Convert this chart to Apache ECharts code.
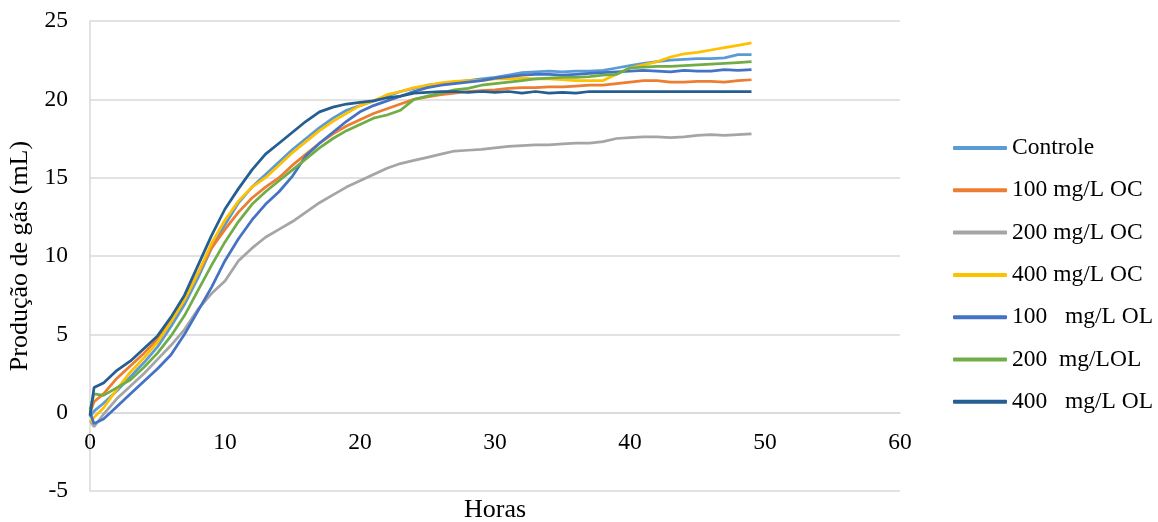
<html>
<head>
    <meta charset="utf-8" />
</head>
<body style="margin:0">
    <div id="chart" style="width:1158px;height:522px"></div>
    <script src="https://cdn.jsdelivr.net/npm/echarts@6/dist/echarts.min.js"></script>
    <script>
        // horas
        var hours = [0, 0.3, 1, 2, 3, 4, 5, 6, 7, 8, 9, 10, 11, 12, 13, 14, 15, 16, 17, 18, 19, 20, 21, 22, 23, 24,
            25, 26, 27, 28, 29, 30, 31, 32, 33, 34, 35, 36, 37, 38, 39, 40, 41, 42, 43, 44, 45, 46, 47, 48, 49];

        var seriesNames = ['Controle', '100 mg/L OC', '200 mg/L OC', '400 mg/L OC', '100   mg/L OL', '200  mg/LOL', '400   mg/L OL'];
        var colors = ['#5b9bd5', '#ed7d31', '#a5a5a5', '#ffc000', '#4472c4', '#70ad47', '#255e91'];

        var controle = [-0.3, 0.1, 0.6, 1.4, 2.3, 3.2, 4.2, 5.5, 6.9, 8.6, 10.5, 12.0, 13.4, 14.4, 15.2, 16.0, 16.8, 17.5, 18.2, 18.8,
            19.3, 19.6, 19.9, 20.2, 20.5, 20.7, 20.9, 21.0, 21.1, 21.2, 21.3, 21.4, 21.55, 21.7, 21.75, 21.8, 21.75, 21.8, 21.8,
            21.85, 22.0, 22.15, 22.3, 22.4, 22.5, 22.55, 22.6, 22.6, 22.65, 22.85, 22.85];
        var oc100 = [0.0, 0.7, 1.2, 2.2, 3.0, 3.8, 4.7, 5.8, 7.2, 8.9, 10.5, 11.7, 12.8, 13.7, 14.4, 15.0, 15.8, 16.5, 17.2, 17.8,
            18.3, 18.7, 19.1, 19.4, 19.7, 20.0, 20.15, 20.3, 20.4, 20.5, 20.55, 20.6, 20.7, 20.75, 20.75, 20.8, 20.8, 20.85, 20.9,
            20.9, 21.0, 21.1, 21.2, 21.2, 21.1, 21.1, 21.15, 21.15, 21.1, 21.2, 21.25];
        var oc200 = [-0.5, -0.9, -0.1, 0.9, 1.7, 2.5, 3.4, 4.3, 5.3, 6.6, 7.6, 8.4, 9.7, 10.5, 11.2, 11.7, 12.2, 12.8, 13.4, 13.9,
            14.4, 14.8, 15.2, 15.6, 15.9, 16.1, 16.3, 16.5, 16.7, 16.75, 16.8, 16.9, 17.0, 17.05, 17.1, 17.1, 17.15, 17.2, 17.2,
            17.3, 17.5, 17.55, 17.6, 17.6, 17.55, 17.6, 17.7, 17.75, 17.7, 17.75, 17.8];
        var oc400 = [-0.6, -0.3, 0.3, 1.5, 2.6, 3.5, 4.5, 5.8, 7.2, 8.9, 10.8, 12.3, 13.5, 14.4, 15.0, 15.8, 16.6, 17.3, 18.0, 18.6,
            19.1, 19.6, 19.9, 20.3, 20.5, 20.75, 20.9, 21.05, 21.15, 21.2, 21.2, 21.3, 21.3, 21.35, 21.3, 21.3, 21.25, 21.2, 21.2,
            21.2, 21.6, 22.0, 22.2, 22.4, 22.7, 22.9, 23.0, 23.15, 23.3, 23.45, 23.6];
        var ol100 = [0.0, -0.7, -0.4, 0.4, 1.2, 2.0, 2.8, 3.7, 5.0, 6.5, 8.0, 9.7, 11.1, 12.3, 13.3, 14.1, 15.1, 16.4, 17.2, 17.9,
            18.6, 19.2, 19.6, 19.9, 20.2, 20.5, 20.75, 20.9, 21.0, 21.1, 21.2, 21.35, 21.45, 21.55, 21.6, 21.6, 21.55, 21.6, 21.65,
            21.7, 21.75, 21.8, 21.85, 21.8, 21.75, 21.85, 21.8, 21.8, 21.9, 21.85, 21.9];
        var ol200 = [0.2, 1.2, 1.1, 1.6, 2.1, 2.9, 3.8, 4.9, 6.2, 7.8, 9.4, 10.9, 12.2, 13.3, 14.1, 14.8, 15.5, 16.2, 16.9, 17.5,
            18.0, 18.4, 18.8, 19.0, 19.3, 20.0, 20.2, 20.4, 20.6, 20.7, 20.9, 21.0, 21.1, 21.2, 21.3, 21.35, 21.4, 21.4, 21.45,
            21.55, 21.6, 22.0, 22.05, 22.1, 22.1, 22.15, 22.2, 22.25, 22.3, 22.35, 22.4];
        var ol400 = [-0.2, 1.6, 1.9, 2.7, 3.3, 4.1, 4.9, 6.1, 7.5, 9.4, 11.3, 13.0, 14.3, 15.5, 16.5, 17.2, 17.9, 18.6, 19.2, 19.5,
            19.7, 19.8, 19.9, 20.1, 20.2, 20.4, 20.45, 20.5, 20.5, 20.45, 20.5, 20.45, 20.5, 20.4, 20.5, 20.4, 20.45, 20.4, 20.5,
            20.5, 20.5, 20.5, 20.5, 20.5, 20.5, 20.5, 20.5, 20.5, 20.5, 20.5, 20.5];

        var allValues = [controle, oc100, oc200, oc400, ol100, ol200, ol400];

        var font = 'Liberation Serif';
        var chart = echarts.init(document.getElementById('chart'));

        var series = [];
        for (var i = 0; i < seriesNames.length; i++) {
            series.push({
                name: seriesNames[i],
                type: 'line',
                showSymbol: false,
                data: hours.map(function (h, j) { return [h, allValues[i][j]]; }),
                lineStyle: { width: 2.75, color: colors[i] },
                itemStyle: { color: colors[i] }
            });
        }

        // eixo x cruza em y = 0 (onZero nao pega aqui, entao desloca o eixo)
        var plotTop = 21, plotBottom = 31, yMin = -5, yMax = 25;
        var plotH = 522 - plotTop - plotBottom;
        var zeroOffset = -plotH * (0 - yMin) / (yMax - yMin);

        var option = {
            animation: false,
            grid: { left: 90, right: 258, top: plotTop, bottom: plotBottom, outerBoundsMode: 'none' },
            legend: {
                orient: 'vertical',
                left: 953,
                top: 136,
                padding: 0,
                itemWidth: 54,
                itemHeight: 4,
                itemGap: 18.3,
                icon: 'roundRect',
                textStyle: { fontFamily: font, fontSize: 23.5, color: '#000', lineHeight: 24 },
                data: seriesNames
            },
            xAxis: {
                type: 'value',
                min: 0,
                max: 60,
                interval: 10,
                offset: zeroOffset,
                name: 'Horas',
                nameLocation: 'middle',
                nameGap: 85,
                nameTextStyle: { fontFamily: font, fontSize: 26, color: '#000' },
                axisLine: { onZero: false, lineStyle: { color: '#d9d9d9', width: 1.5 } },
                axisTick: { show: false },
                axisLabel: { fontFamily: font, fontSize: 23.5, color: '#000', margin: 18 },
                splitLine: { show: false }
            },
            yAxis: {
                type: 'value',
                min: yMin,
                max: yMax,
                interval: 5,
                name: 'Produção de gás (mL)',
                nameLocation: 'middle',
                nameGap: 45,
                nameTextStyle: { fontFamily: font, fontSize: 26, color: '#000' },
                axisLine: { show: true, onZero: false, lineStyle: { color: '#d9d9d9', width: 1.5 } },
                axisTick: { show: false },
                axisLabel: { fontFamily: font, fontSize: 23.5, color: '#000', margin: 22 },
                splitLine: { lineStyle: { color: '#d9d9d9', width: 1.5 } }
            },
            series: series
        };
        chart.setOption(option);
    </script>
</body>
</html>
